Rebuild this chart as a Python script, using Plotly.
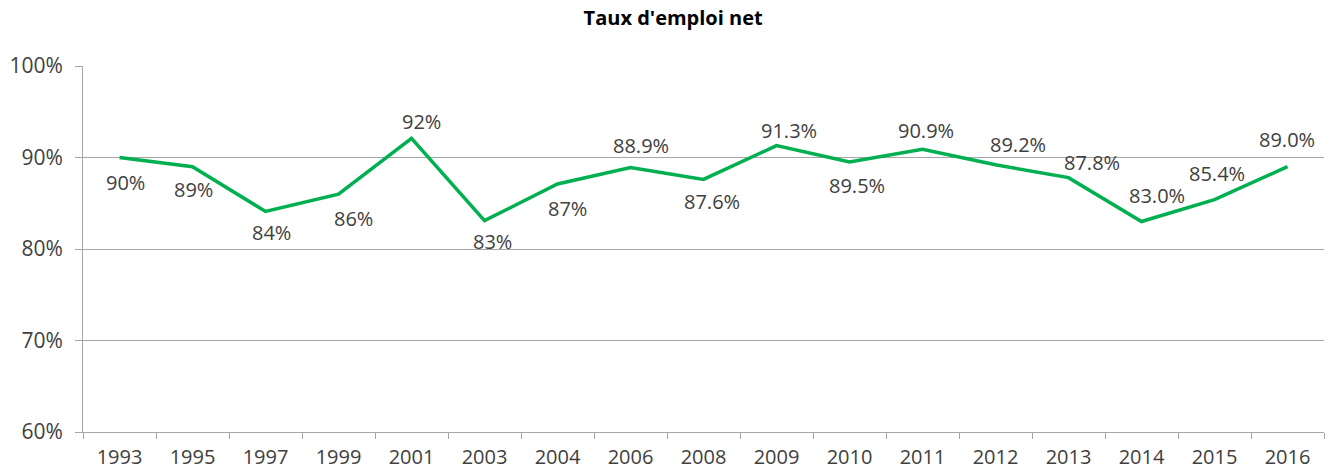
import plotly.graph_objects as go

years = ["1993", "1995", "1997", "1999", "2001", "2003", "2004", "2006", "2008",
         "2009", "2010", "2011", "2012", "2013", "2014", "2015", "2016"]
rates = [90.0, 89.0, 84.1, 86.0, 92.1, 83.1, 87.1, 88.9, 87.6,
         91.3, 89.5, 90.9, 89.2, 87.8, 83.0, 85.4, 89.0]
label_texts = ["90%", "89%", "84%", "86%", "92%", "83%", "87%", "88.9%", "87.6%",
               "91.3%", "89.5%", "90.9%", "89.2%", "87.8%", "83.0%", "85.4%", "89.0%"]
y_ticks = [60, 70, 80, 90, 100]
y_tick_text = ["60%", "70%", "80%", "90%", "100%"]

# label offsets in pixels (dx right, dy up)
label_dx = [6, 1, 6, 15, 10, 8, 10, 10, 8, 12, 7, 3, 22, 23, 15, 2, -1]
label_dy = [-25, -23, -21, -24, 17, -21, -24, 22, -22, 15, -23, 19, 20, 15, 26, 26, 27]

FONT = "Open Sans"
TXT = "#404040"

fig = go.Figure()
fig.add_trace(go.Scatter(
    x=years, y=rates, mode="lines",
    line=dict(color="#00B050", width=3.5),
    hoverinfo="skip", showlegend=False,
))

for i, (y, t, dx, dy) in enumerate(zip(rates, label_texts, label_dx, label_dy)):
    fig.add_annotation(x=i, y=y, xref="x", yref="y", text=t, showarrow=False,
                       xshift=dx, yshift=dy, xanchor="center", yanchor="middle",
                       font=dict(family=FONT, size=20, color=TXT))

fig.update_layout(
    width=1333, height=474,
    margin=dict(l=83, r=9, t=66, b=42),
    paper_bgcolor="white", plot_bgcolor="white",
    title=dict(text="<b>Taux d'emploi net</b>", x=0.505, xref="container",
               y=0.963, yref="container", xanchor="center", yanchor="middle",
               font=dict(family=FONT, size=20, color="#000000")),
    font=dict(family=FONT, size=21, color=TXT),
)
fig.update_xaxes(
    type="category", range=[-0.5, 16.5], automargin=False,
    showline=True, linecolor="#A6A6A6", linewidth=1,
    ticks="outside", tickson="boundaries", ticklen=6, tickcolor="#A6A6A6",
    showgrid=False, tickfont=dict(family=FONT, size=20, color=TXT),
    ticklabelstandoff=7,
)
fig.update_yaxes(
    range=[60, 100], tickvals=y_ticks, ticktext=y_tick_text, automargin=False,
    showline=True, linecolor="#A6A6A6", linewidth=1,
    ticks="outside", ticklen=7, tickcolor="#A6A6A6",
    showgrid=True, gridcolor="#A6A6A6", gridwidth=1,
    zeroline=False, tickfont=dict(family=FONT, size=21, color=TXT),
    ticklabelstandoff=8,
)

fig.write_html("out.html")
